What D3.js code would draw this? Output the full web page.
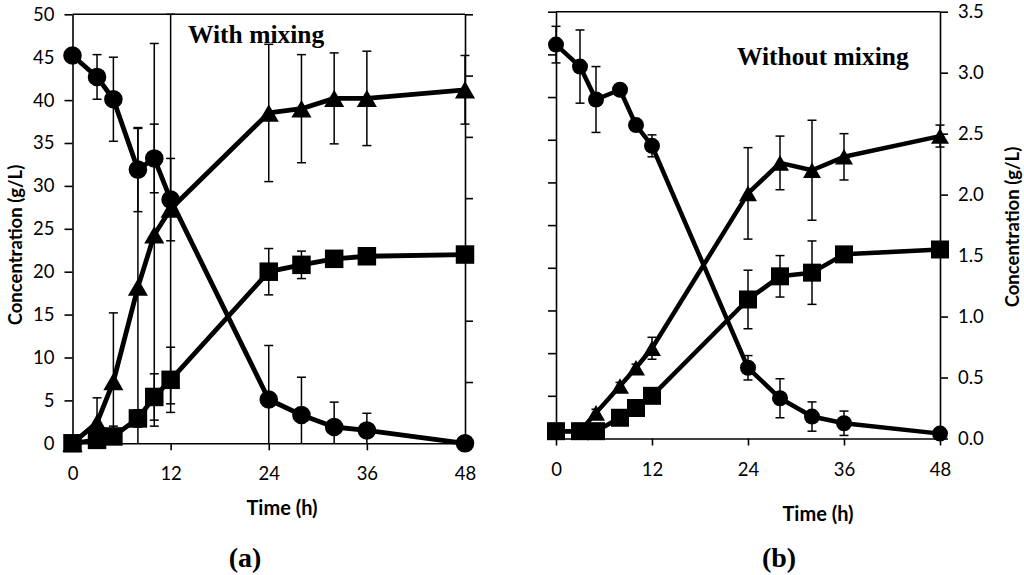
<!DOCTYPE html>
<html>
<head>
<meta charset="utf-8">
<script src="https://cdn.jsdelivr.net/npm/d3@7/dist/d3.min.js"></script>
<style>
  html, body { margin: 0; padding: 0; background: #fff; }
  svg { display: block; }
</style>
</head>
<body>
<svg id="chart" width="1024" height="575"></svg>
<script>
// ---------- DATA ----------
const times = [0, 3, 5, 8, 10, 12, 24, 28, 32, 36, 48];
const xTicks = [0, 12, 24, 36, 48];

// Panel (a): With mixing (g/L, 0-50 scale)
const circleA    = [45.2, 42.7, 40.1, 31.9, 33.2, 28.4, 5.1, 3.3, 1.9, 1.5, 0.0];
const circleAErr = [0.5, 2.6, 4.9, 4.9, 4.0, 4.8, 6.3, 4.4, 2.9, 2.0, 0.3];
const triA       = [0.0, 2.4, 7.2, 18.2, 24.3, 27.3, 38.5, 39.0, 40.2, 40.2, 41.2];
const triAErr    = [0.0, 2.9, 8.0, 18.5, 22.3, 22.7, 8.0, 6.3, 5.3, 5.5, 4.0];
const sqA        = [0.0, 0.4, 0.8, 2.9, 5.4, 7.4, 20.0, 20.8, 21.5, 21.8, 22.0];
const sqAErr     = [0.0, 0.5, 1.2, 1.0, 2.7, 3.8, 2.7, 1.6, 0.5, 0.5, 0.5];

// Panel (b): Without mixing (g/L, 0-3.5 scale)
const circleB    = [3.23, 3.05, 2.78, 2.86, 2.57, 2.40, 0.58, 0.33, 0.18, 0.125, 0.04];
const circleBErr = [0.15, 0.30, 0.27, 0.03, 0.03, 0.09, 0.10, 0.16, 0.12, 0.10, 0.02];
const triB       = [0.06, 0.06, 0.21, 0.43, 0.58, 0.74, 2.01, 2.26, 2.20, 2.31, 2.48];
const triBErr    = [0.0, 0.0, 0.03, 0.03, 0.03, 0.09, 0.375, 0.22, 0.41, 0.19, 0.09];
const sqB        = [0.06, 0.06, 0.06, 0.17, 0.25, 0.35, 1.14, 1.33, 1.36, 1.51, 1.55];
const sqBErr     = [0.0, 0.0, 0.0, 0.02, 0.02, 0.03, 0.24, 0.17, 0.26, 0.03, 0.03];

const yTicksBig = [0, 5, 10, 15, 20, 25, 30, 35, 40, 45, 50];
const yTicksSmall = [0, 0.5, 1.0, 1.5, 2.0, 2.5, 3.0, 3.5];

// ---------- DRAW ----------
const svg = d3.select("#chart");
const tickFont = "Lato, 'Open Sans', sans-serif";

function panel(cfg) {
  const g = svg.append("g");
  const x = d3.scaleLinear().domain([0, 48]).range([cfg.x0, cfg.x1]);
  const y = d3.scaleLinear().domain([0, cfg.ymax]).range([cfg.y0, cfg.y1]);
  const yAlt = d3.scaleLinear().domain([0, cfg.altMax]).range([cfg.y0, cfg.y1]);

  // frame top line
  g.append("line").attr("x1", cfg.x0).attr("x2", cfg.x1).attr("y1", cfg.y1).attr("y2", cfg.y1)
    .attr("stroke", "#000").attr("stroke-width", 1.6);

  // x axis
  const xa = g.append("g").attr("transform", `translate(0,${cfg.y0})`)
    .call(d3.axisBottom(x).tickValues(xTicks).tickSizeInner(7).tickSizeOuter(0).tickPadding(17).tickFormat(d3.format("d")));
  // labeled y axis
  const yAxisGen = cfg.labelSide === "left" ? d3.axisLeft(y) : d3.axisRight(y);
  yAxisGen.tickValues(cfg.labelTicks).tickSizeInner(8).tickSizeOuter(0).tickPadding(10).tickFormat(cfg.fmt);
  const ya = g.append("g").attr("transform", `translate(${cfg.labelSide === "left" ? cfg.x0 : cfg.x1},0)`).call(yAxisGen);
  // unlabeled opposite axis
  const oppGen = cfg.labelSide === "left" ? d3.axisRight(yAlt) : d3.axisLeft(yAlt);
  oppGen.tickValues(cfg.altTicks).tickSizeInner(8).tickSizeOuter(0).tickFormat("");
  const oa = g.append("g").attr("transform", `translate(${cfg.labelSide === "left" ? cfg.x1 : cfg.x0},0)`).call(oppGen);

  [xa, ya, oa].forEach(a => {
    a.selectAll("path.domain").attr("stroke", "#000").attr("stroke-width", 1.6);
    a.selectAll(".tick line").attr("stroke", "#000").attr("stroke-width", 1.6);
    a.selectAll("text").attr("font-family", tickFont).attr("font-size", 18.5).attr("fill", "#000");
  });

  const series = [
    { v: cfg.tri, e: cfg.triErr, type: "tri" },
    { v: cfg.circ, e: cfg.circErr, type: "circ" },
    { v: cfg.sq, e: cfg.sqErr, type: "sq" }
  ];

  // error bars
  const eb = g.append("g").attr("stroke", "#000").attr("stroke-width", 1.5).attr("fill", "none");
  series.forEach(s => {
    times.forEach((t, i) => {
      const e = s.e[i];
      if (!e) return;
      const lo = s.v[i] - e, hi = s.v[i] + e;
      const loC = Math.max(lo, 0), hiC = Math.min(hi, cfg.ymax);
      const xp = x(t);
      eb.append("line").attr("x1", xp).attr("x2", xp).attr("y1", y(loC)).attr("y2", y(hiC));
      const cw = 4.5;
      if (hi <= cfg.ymax + 1e-9) eb.append("line").attr("x1", xp - cw).attr("x2", xp + cw).attr("y1", y(hi)).attr("y2", y(hi));
      if (lo >= 0) eb.append("line").attr("x1", xp - cw).attr("x2", xp + cw).attr("y1", y(lo)).attr("y2", y(lo));
    });
  });

  // lines
  const line = d3.line().x(d => x(d[0])).y(d => y(d[1]));
  series.forEach(s => {
    g.append("path").datum(times.map((t, i) => [t, s.v[i]]))
      .attr("d", line).attr("fill", "none").attr("stroke", "#000")
      .attr("stroke-width", cfg.lw).attr("stroke-linejoin", "round");
  });

  // markers
  series.forEach(s => {
    const sym = s.type === "tri" ? d3.symbolTriangle : s.type === "circ" ? d3.symbolCircle : d3.symbolSquare;
    const size = s.type === "tri" ? cfg.triSize : s.type === "circ" ? cfg.circSize : cfg.sqSize;
    const gen = d3.symbol().type(sym).size(size);
    const triOff = Math.sqrt(cfg.triSize / (Math.sqrt(3) * 3)) / 2; // centre triangle's bounding box on the point
    g.selectAll(null).data(times.map((t, i) => [t, s.v[i]])).enter().append("path")
      .attr("d", gen)
      .attr("transform", d => `translate(${x(d[0])},${y(d[1]) + (s.type === "tri" ? triOff : 0)})`)
      .attr("fill", "#000");
  });

  // x title
  g.append("text").attr("x", cfg.xTitleX).attr("y", cfg.xTitleY).attr("text-anchor", "middle")
    .attr("dominant-baseline", "central")
    .attr("font-family", tickFont).attr("font-weight", "bold").attr("font-size", 20).text("Time (h)");
  // y title
  g.append("text").attr("transform", `translate(${cfg.yTitleX},${cfg.yTitleY}) rotate(-90)`)
    .attr("text-anchor", "middle").attr("dominant-baseline", "central")
    .attr("font-family", tickFont).attr("font-weight", "bold").attr("font-size", 18.5).text("Concentration (g/L)");
  // inner label
  g.append("text").attr("x", cfg.noteX).attr("y", cfg.noteY)
    .attr("font-family", "'Liberation Serif', 'Times New Roman', serif").attr("font-weight", "bold")
    .attr("font-size", 25.5).text(cfg.note);
  // panel letter
  g.append("text").attr("x", cfg.letterX).attr("y", 557).attr("text-anchor", "middle")
    .attr("dominant-baseline", "central")
    .attr("font-family", "'Liberation Serif', 'Times New Roman', serif").attr("font-weight", "bold")
    .attr("font-size", 28).text(cfg.letter);
}

panel({
  x0: 72.5, x1: 465, y0: 443.3, y1: 14.3, ymax: 50, altMax: 3.5,
  labelSide: "left", labelTicks: yTicksBig, altTicks: yTicksSmall, fmt: d3.format("d"),
  circ: circleA, circErr: circleAErr, tri: triA, triErr: triAErr, sq: sqA, sqErr: sqAErr,
  lw: 4.8, circSize: Math.PI * 9.3 * 9.3, sqSize: 18.5 * 18.5, triSize: 175,
  xTitleX: 282, xTitleY: 507, yTitleX: 15, yTitleY: 245,
  note: "With mixing", noteX: 188, noteY: 43, letter: "(a)", letterX: 245
});

panel({
  x0: 556, x1: 940, y0: 438.5, y1: 11.7, ymax: 3.5, altMax: 50,
  labelSide: "right", labelTicks: yTicksSmall, altTicks: yTicksBig, fmt: d3.format(".1f"),
  circ: circleB, circErr: circleBErr, tri: triB, triErr: triBErr, sq: sqB, sqErr: sqBErr,
  lw: 4.5, circSize: Math.PI * 8 * 8, sqSize: 18 * 18, triSize: 140,
  xTitleX: 818, xTitleY: 513, yTitleX: 1012, yTitleY: 227,
  note: "Without mixing", noteX: 737, noteY: 65, letter: "(b)", letterX: 779
});
</script>
</body>
</html>
